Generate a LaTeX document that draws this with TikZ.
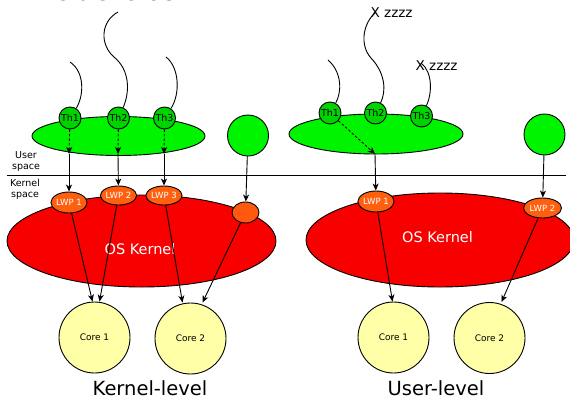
\documentclass[tikz,border=0pt]{standalone}
\usepackage{fontspec}
\setmainfont{DejaVu Sans}
\usetikzlibrary{shapes.geometric,arrows.meta}
\definecolor{gbig}{HTML}{00F400}
\definecolor{gth}{HTML}{00D400}
\definecolor{kred}{HTML}{F80000}
\definecolor{lwpor}{HTML}{FF6010}
\definecolor{coreye}{HTML}{FFFFA8}
\tikzset{
  outl/.style={draw=black, line width=0.9pt},
  greenell/.style={outl, ellipse, fill=gbig, inner sep=0pt},
  thnode/.style={outl, circle, fill=gth, minimum size=22pt, inner sep=0pt, font=\fontsize{9.5}{9.5}\selectfont},
  kernell/.style={outl, ellipse, fill=kred, inner sep=0pt},
  lwpnode/.style={outl, ellipse, fill=lwpor, inner sep=0pt, text=white, font=\fontsize{8.5}{8.5}\selectfont},
  corenode/.style={outl, circle, fill=coreye, minimum size=71pt, inner sep=0pt, font=\fontsize{9}{9}\selectfont},
  arr/.style={line width=0.9pt, -{Stealth[length=7pt,width=6pt,inset=2pt]}},
  darr/.style={arr, dash pattern=on 2.5pt off 2pt},
  thread/.style={line width=0.9pt},
  small/.style={font=\fontsize{9.5}{11}\selectfont, align=center, inner sep=0pt},
  big/.style={font=\fontsize{19.5}{20}\selectfont, inner sep=0pt},
  zz/.style={font=\fontsize{13.5}{14}\selectfont, inner sep=0pt, anchor=base west},
}
\begin{document}
\begin{tikzpicture}[x=1pt,y=-1pt]
\useasboundingbox (0,0) rectangle (570,399);

% top cut text
\node[big, anchor=base west, font=\fontsize{22}{22}\selectfont] (toptxt) at (18,0.5) {Invisible to OS};

% ===== left panel =====
\node[greenell, minimum width=173pt, minimum height=39pt] (gell) at (118.5,136) {};
\node[outl, circle, fill=gbig, minimum size=41pt, inner sep=0pt] (gcirc) at (248,135.5) {};
\node[thnode] (th1) at (70,118) {Th1};
\node[thnode] (th2) at (118.5,118) {Th2};
\node[thnode] (th3) at (164.5,118) {Th3};

\coordinate (s1) at (70,62);
\coordinate (s2) at (118,12);
\coordinate (s3) at (166,57);
\draw[thread] (s1) .. controls (85,72) and (84,96) .. (th1);
\draw[thread] (s2) .. controls (100,22) and (100,45) .. (114,57) .. controls (130,70) and (130,92) .. (th2);
\draw[thread] (s3) .. controls (180,68) and (180,95) .. (th3);

\coordinate (m1) at (69,154);
\coordinate (m2) at (118,154);
\coordinate (m3) at (164,154);

\node[kernell, minimum width=269pt, minimum height=92pt] (kl) at (141.5,241) {};
\node[text=white, font=\fontsize{14.5}{15}\selectfont, inner sep=0pt] (osk1) at (140,249) {OS Kernel};
\node[lwpnode, minimum width=32pt, minimum height=21pt] (lwp1) at (69,202.5) {LWP 1};
\node[lwpnode, minimum width=33pt, minimum height=19pt] (lwp2) at (118.5,195.5) {LWP 2};
\node[lwpnode, minimum width=32pt, minimum height=19pt] (lwp3) at (164,195.5) {LWP 3};
\node[outl, ellipse, fill=lwpor!92!red, minimum width=27pt, minimum height=21pt, inner sep=0pt] (lwp4) at (245.5,212.5) {};

\draw[darr] (th1) -- (m1);
\draw[darr] (th2) -- (m2);
\draw[darr] (th3) -- (m3);
\draw[arr] (m1) -- (lwp1);
\draw[arr] (m2) -- (lwp2);
\draw[arr] (m3) -- (lwp3);
\draw[arr] (gcirc) -- (lwp4);

\node[corenode] (c1) at (94.5,337.5) {Core 1};
\node[corenode] (c2) at (190.5,338.5) {Core 2};

\draw[arr] (lwp1) -- ([xshift=-2pt]c1.north);
\draw[arr] (lwp2) -- ([xshift=5pt]c1.north);
\draw[arr] (lwp3) -- ([xshift=-8pt]c2.north);
\draw[arr] (lwp4) -- ([xshift=12pt]c2.north);

\node[big, anchor=base] (kl-lab) at (150,395) {Kernel-level};

% separator and labels
\coordinate (hl) at (7,175);
\coordinate (hr) at (566,175);
\draw[line width=0.9pt] (hl) -- (hr);
\node[small] (us) at (26,162) {User\\space};
\node[small] (ks) at (25,189) {Kernel\\space};

% ===== right panel =====
\node[greenell, minimum width=174pt, minimum height=40pt] (gell2) at (376,134) {};
\node[outl, circle, fill=gbig, minimum size=41pt, inner sep=0pt] (gcirc2) at (544.5,134.5) {};
\node[thnode] (rth1) at (330,113) {Th1};
\node[thnode] (rth2) at (375.5,113) {Th2};
\node[thnode] (rth3) at (421.5,116) {Th3};

\coordinate (rs1) at (328,60);
\coordinate (rs2) at (376,12);
\coordinate (rs3) at (421,63);
\draw[thread] (rs1) .. controls (342,72) and (342,92) .. (rth1);
\draw[thread] (rs2) .. controls (362,24) and (360,46) .. (371,58) .. controls (386,74) and (386,92) .. (rth2);
\draw[thread] (rs3) .. controls (433,72) and (432,94) .. (rth3);
\node[zz] (z1) at (370.5,17.5) {X zzzz};
\node[zz] (z2) at (415.5,70) {X zzzz};

\node[kernell, minimum width=268pt, minimum height=94pt] (kr) at (440,240) {};
\node[text=white, font=\fontsize{14.5}{15}\selectfont, inner sep=0pt] (osk2) at (437.5,237) {OS Kernel};
\node[lwpnode, minimum width=36pt, minimum height=21pt] (rlwp1) at (376,201.5) {LWP 1};
\node[lwpnode, minimum width=38pt, minimum height=20pt] (rlwp2) at (542.5,208) {LWP 2};

\coordinate (rm1) at (375,154);
\draw[darr] (rth1) -- (rm1);
\draw[arr] (rm1) -- (rlwp1);
\draw[arr] (gcirc2) -- (rlwp2);

\node[corenode] (rc1) at (393.5,337.5) {Core 1};
\node[corenode] (rc2) at (489.5,338) {Core 2};
\draw[arr] (rlwp1) -- ([xshift=-1pt]rc1.north);
\draw[arr] (rlwp2) -- ([xshift=12pt]rc2.north);

\node[big, anchor=base] (ul-lab) at (436,395) {User-level};
\end{tikzpicture}
\end{document}
